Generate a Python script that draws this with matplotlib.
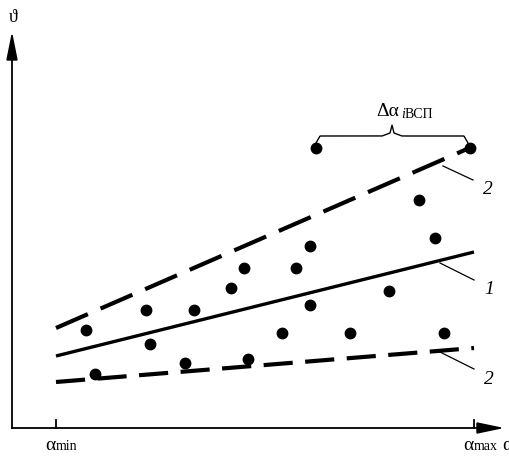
import numpy as np
import matplotlib.pyplot as plt
from matplotlib.patches import Polygon

plt.rcParams['font.family'] = ['Liberation Serif', 'DejaVu Serif']
plt.rcParams['lines.scale_dashes'] = False

# points (x, y) measured from the axis origin, y upwards
pts_x = [74, 83, 134, 138, 173, 182, 219, 232, 236, 270, 284, 298, 298, 304, 338, 377, 407, 423, 432, 458]
pts_y = [98, 54, 118, 84, 65, 118, 140, 160, 69, 95, 160, 182, 123, 280, 95, 137, 228, 190, 95, 280]

x_min, x_max = 44, 462
line1 = [72, 176]
upper2 = [100, 282]
lower2 = [46, 80]

fig = plt.figure(figsize=(5.09, 4.58), dpi=100)
ax = fig.add_axes([0, 0, 1, 1])
ax.set_xlim(-12, 497)
ax.set_ylim(-30, 428)
ax.axis('off')

# axes with arrows
ax.plot([0, 0], [0, 375], color='k', lw=1.3)
ax.plot([0, 470], [0, 0], color='k', lw=1.3)
ax.add_patch(Polygon([[-5, 368], [5, 368], [0, 393]], closed=True, color='k'))
ax.add_patch(Polygon([[465, -5], [465, 5], [489, 0]], closed=True, color='k'))
for xt in (x_min, x_max):
    ax.plot([xt, xt], [0, 8], color='k', lw=1.3)

ax.text(1, 410, 'ϑ', fontsize=13, ha='center', va='center')
ax.text(x_min, -17, 'α', fontsize=14, ha='right', va='center')
ax.text(x_min, -19, 'min', fontsize=10, ha='left', va='center')
ax.text(x_max, -17, 'α', fontsize=14, ha='right', va='center')
ax.text(x_max, -19, 'max', fontsize=10, ha='left', va='center')
ax.text(490, -17, 'α', fontsize=14, ha='left', va='center')

# lines
ax.plot([x_min, x_max], line1, color='k', lw=2.4, solid_capstyle='butt')
ax.plot([x_min, x_max], upper2, color='k', lw=3.0, dashes=(25, 10), dash_capstyle='butt')
ax.plot([x_min, x_max], lower2, color='k', lw=3.0, dashes=(21, 9), dash_capstyle='butt')

ax.plot(pts_x, pts_y, 'o', color='k', ms=7.5)

# leader lines and labels
for (xa, ya), (xb, yb), lab in [((431, 262), (461, 248), '2'),
                                ((428, 165), (462, 148), '1'),
                                ((428, 76), (462, 59), '2')]:
    ax.plot([xa, xb], [ya, yb], color='k', lw=0.9)
    ax.text(xb + 10, yb - 10, lab, fontsize=14, style='italic', ha='left', va='center')

# brace
bx = np.array([304, 304, 308, 370, 378, 380, 382, 390, 452, 456, 456])
by = np.array([280, 285, 292, 292, 295, 303, 295, 292, 292, 285, 280])
t = np.linspace(0, 1, 200)
xs = np.interp(t, np.linspace(0, 1, len(bx)), bx)
ys = np.interp(t, np.linspace(0, 1, len(by)), by)
ax.plot(xs, ys, color='k', lw=1.0)
ax.text(364, 316, 'Δα', fontsize=14, ha='left', va='center')
ax.text(389, 313, 'i', fontsize=10, style='italic', ha='left', va='center')
ax.text(393, 313, 'ВСП', fontsize=10, ha='left', va='center')

fig.savefig('out.png', dpi=100)
